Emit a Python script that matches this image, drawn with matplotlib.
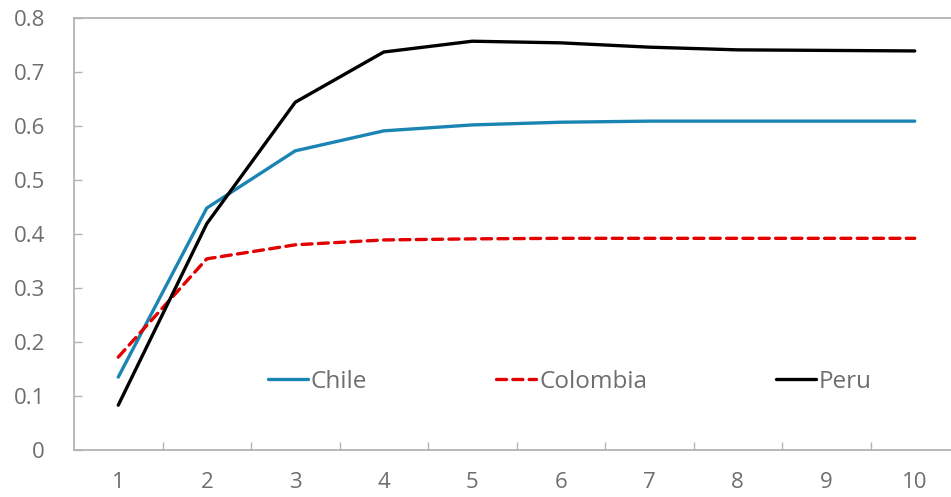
import matplotlib
matplotlib.use("Agg")
import matplotlib.pyplot as plt

plt.rcParams['font.family'] = ['Open Sans', 'DejaVu Sans']

horizons = [1, 2, 3, 4, 5, 6, 7, 8, 9, 10]
chile = [0.135, 0.448, 0.554, 0.591, 0.602, 0.607, 0.609, 0.609, 0.609, 0.609]
colombia = [0.172, 0.354, 0.380, 0.389, 0.391, 0.392, 0.392, 0.392, 0.392, 0.392]
peru = [0.083, 0.419, 0.644, 0.737, 0.757, 0.754, 0.746, 0.741, 0.740, 0.739]
yticks = [0, 0.1, 0.2, 0.3, 0.4, 0.5, 0.6, 0.7, 0.8]
ytick_labels = ['0', '0.1', '0.2', '0.3', '0.4', '0.5', '0.6', '0.7', '0.8']

W, H = 951, 497
fig = plt.figure(figsize=(W / 100, H / 100), dpi=100)
left, right, top, bottom = 74, 959, 18, 450
ax = fig.add_axes([left / W, 1 - bottom / H, (right - left) / W, (bottom - top) / H])

gray = '#6E6E6E'
spine_c = '#B3B3B3'

l1, = ax.plot(horizons, chile, color='#1A85B3', lw=2.4, solid_capstyle='round', label='Chile')
l2, = ax.plot(horizons, colombia, color='#E30000', lw=2.4, dashes=(3.0, 1.9),
              dash_capstyle='round', label='Colombia')
l3, = ax.plot(horizons, peru, color='black', lw=2.4, solid_capstyle='round', label='Peru')

ax.set_xlim(0.5, 10.5)
ax.set_ylim(0, 0.8)
ax.set_yticks(yticks)
ax.set_yticklabels(ytick_labels)
ax.set_xticks(horizons)
ax.set_xticklabels([str(h) for h in horizons])
ax.set_xticks([h + 0.5 for h in horizons[:-1]], minor=True)

ax.tick_params(axis='x', which='major', length=0, pad=16, labelsize=16, labelcolor=gray)
ax.tick_params(axis='x', which='minor', direction='in', length=6, width=1, color=spine_c)
ax.tick_params(axis='y', which='major', direction='in', length=6, width=1, color=spine_c,
               pad=21, labelsize=16, labelcolor=gray)

for s in ['left', 'bottom', 'top']:
    ax.spines[s].set_color(spine_c)
    ax.spines[s].set_linewidth(1.3)
ax.spines['right'].set_visible(False)

leg = ax.legend(handles=[l1, l2, l3], loc='center',
                bbox_to_anchor=((570 - left) / (right - left), (bottom - 382) / (bottom - top)),
                ncol=3, frameon=False, fontsize=17.5, handlelength=1.65, handletextpad=0.12,
                columnspacing=5.3, labelcolor=gray)

fig.savefig('out.png', dpi=100)
